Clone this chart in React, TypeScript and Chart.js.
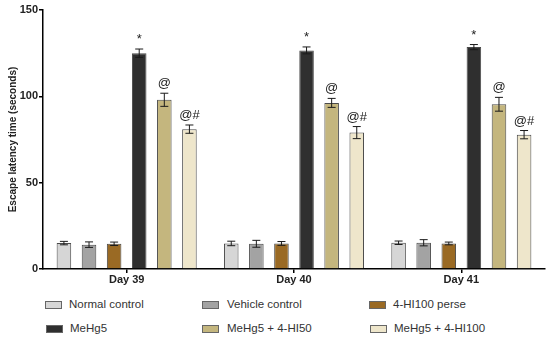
import React, { useEffect, useRef } from "react";
import { Chart, registerables } from "chart.js";

Chart.register(...registerables);

const days = ["Day 39", "Day 40", "Day 41"];
const seriesNames = [
  "Normal control",
  "Vehicle control",
  "4-HI100 perse",
  "MeHg5",
  "MeHg5 + 4-HI50",
  "MeHg5 + 4-HI100",
];
const seriesColors = ["#d6d6d6", "#a3a3a3", "#9a6a24", "#2f2f2f", "#c4b67e", "#eee6cb"];
const normalControl = [15.0, 14.8, 15.2];
const vehicleControl = [14.1, 14.6, 15.2];
const hi100Perse = [14.6, 14.8, 14.8];
const meHg5 = [125.0, 126.6, 128.5];
const meHg5Hi50 = [98.0, 96.2, 95.4];
const meHg5Hi100 = [81.0, 79.0, 77.8];
const normalControlErr = [1.0, 1.3, 1.0];
const vehicleControlErr = [1.6, 2.0, 1.8];
const hi100PerseErr = [1.0, 1.1, 0.8];
const meHg5Err = [2.4, 2.0, 1.5];
const meHg5Hi50Err = [3.8, 2.6, 4.0];
const meHg5Hi100Err = [2.4, 3.5, 2.4];
const markers = ["", "", "", "*", "@", "@#"];
const yTicks = [0, 50, 100, 150];

const seriesValues = [normalControl, vehicleControl, hi100Perse, meHg5, meHg5Hi50, meHg5Hi100];
const seriesErrors = [normalControlErr, vehicleControlErr, hi100PerseErr, meHg5Err, meHg5Hi50Err, meHg5Hi100Err];

const errorBarPlugin = {
  id: "errorBars",
  afterDatasetsDraw(chart: any) {
    const ctx = chart.ctx;
    const yScale = chart.scales.y;
    ctx.save();
    chart.data.datasets.forEach((ds: any, i: number) => {
      const meta = chart.getDatasetMeta(i);
      meta.data.forEach((el: any, j: number) => {
        const v = ds.data[j];
        const e = seriesErrors[i][j];
        const x = el.x;
        const yt = yScale.getPixelForValue(v + e);
        const yb = yScale.getPixelForValue(v - e);
        ctx.strokeStyle = "#1a1a1a";
        ctx.lineWidth = 1;
        ctx.beginPath();
        ctx.moveTo(x, yt);
        ctx.lineTo(x, yb);
        ctx.moveTo(x - 4, yt);
        ctx.lineTo(x + 4, yt);
        ctx.moveTo(x - 4, yb);
        ctx.lineTo(x + 4, yb);
        ctx.stroke();
        const m = markers[i];
        if (m) {
          ctx.fillStyle = "#222";
          ctx.font = "13px Arial, 'Liberation Sans', sans-serif";
          ctx.textAlign = "center";
          ctx.textBaseline = "bottom";
          ctx.fillText(m, x, yt - 3);
        }
      });
    });
    ctx.restore();
  },
};

export default function App() {
  const ref = useRef<HTMLCanvasElement>(null);
  useEffect(() => {
    const chart = new Chart(ref.current!, {
      type: "bar",
      data: {
        labels: days,
        datasets: seriesNames.map((name, i) => ({
          label: name,
          data: seriesValues[i],
          backgroundColor: seriesColors[i],
          borderColor: "#4a4a4a",
          borderWidth: 1,
          categoryPercentage: 0.9,
          barPercentage: 0.58,
        })),
      },
      options: {
        animation: false,
        responsive: false,
        maintainAspectRatio: false,
        layout: { padding: { top: 10, right: 5, left: 0, bottom: 0 } },
        plugins: { legend: { display: false }, tooltip: { enabled: false } },
        scales: {
          x: {
            grid: {
              display: true,
              drawOnChartArea: false,
              offset: false,
              tickLength: 4,
              color: "#000",
              lineWidth: 1.5,
            },
            border: { color: "#000", width: 1.5 },
            ticks: {
              color: "#222",
              padding: 0,
              font: { family: "Arial, 'Liberation Sans', sans-serif", size: 11, weight: "bold" },
            },
            afterFit(scale: any) {
              scale.height = 21;
            },
          },
          y: {
            min: 0,
            max: 150,
            afterBuildTicks(scale: any) {
              scale.ticks = yTicks.map((v) => ({ value: v }));
            },
            grid: {
              display: true,
              drawOnChartArea: false,
              tickLength: 4,
              color: "#000",
              lineWidth: 1.5,
            },
            border: { color: "#000", width: 1.5 },
            ticks: {
              color: "#222",
              padding: 1,
              font: { family: "Arial, 'Liberation Sans', sans-serif", size: 11, weight: "bold" },
            },
            title: {
              display: true,
              text: "Escape latency time (seconds)",
              color: "#222",
              padding: { top: 7, bottom: 0 },
              font: { family: "Arial, 'Liberation Sans', sans-serif", size: 10, weight: "bold" },
            },
            afterFit(scale: any) {
              scale.width = 43;
            },
          },
        },
      },
      plugins: [errorBarPlugin],
    });
    return () => chart.destroy();
  }, []);

  const legendPos = [
    { bx: 45, tx: 69, y: 304 },
    { bx: 202, tx: 227, y: 304 },
    { bx: 369, tx: 393, y: 304 },
    { bx: 46, tx: 70, y: 328 },
    { bx: 202, tx: 227, y: 328 },
    { bx: 370, tx: 394, y: 328 },
  ];

  return (
    <div style={{ position: "absolute", left: 0, top: 0, width: 550, height: 348, background: "#fff" }}>
      <canvas ref={ref} width={550} height={290} style={{ position: "absolute", left: 0, top: 0 }} />
      {seriesNames.map((name, i) => (
        <React.Fragment key={name}>
          <div
            style={{
              position: "absolute",
              left: legendPos[i].bx,
              top: legendPos[i].y - 3.5,
              width: 15,
              height: 6,
              background: seriesColors[i],
              border: "1px solid #666",
            }}
          />
          <div
            style={{
              position: "absolute",
              left: legendPos[i].tx,
              top: legendPos[i].y - 8,
              height: 16,
              lineHeight: "16px",
              fontFamily: "Arial, 'Liberation Sans', sans-serif",
              fontSize: 11.5,
              color: "#333",
              whiteSpace: "nowrap",
            }}
          >
            {name}
          </div>
        </React.Fragment>
      ))}
    </div>
  );
}
